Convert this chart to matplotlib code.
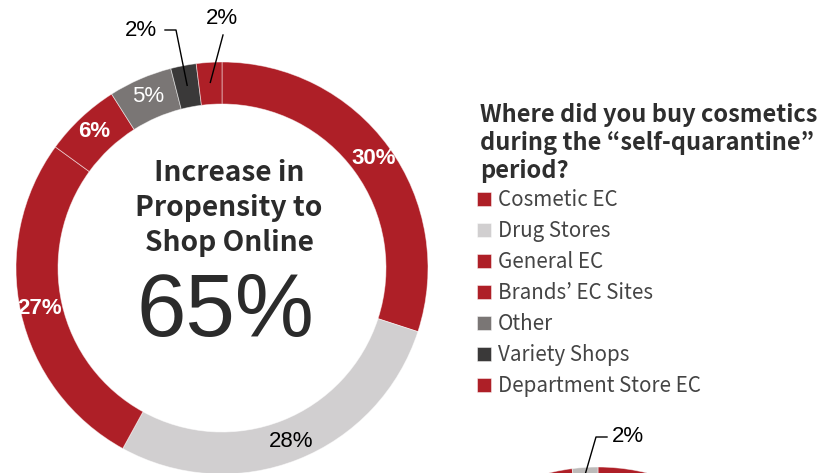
import matplotlib.pyplot as plt
import numpy as np

W, H = 820, 473

# Where cosmetics were bought during self-quarantine (share of respondents, %)
labels = ["Cosmetic EC", "Drug Stores", "General EC", "Brands’ EC Sites",
          "Other", "Variety Shops", "Department Store EC"]
shares = [30, 28, 27, 6, 5, 2, 2]
colors = ["#AE1F27", "#D1CFD0", "#AE1F27", "#AE1F27", "#7A7675", "#3A3939", "#AE1F27"]

headline = "65%"
headline_caption = "Increase in\nPropensity to\nShop Online"
legend_title = "Where did you buy cosmetics\nduring the “self-quarantine”\nperiod?"

# second ring, mostly below the bottom edge
second_shares = [98, 2]
second_colors = ["#AE1F27", "#BCBAB9"]

RED_EDGE = (1, 1, 1, 0.55)
JP = ["Noto Sans CJK JP", "DejaVu Sans"]
SANS = ["Liberation Sans", "DejaVu Sans"]

fig = plt.figure(figsize=(W / 100, H / 100), dpi=100)
ax = fig.add_axes([0, 0, 1, 1])

cx, cy = 222, H - 268
R, ring = 206, 42
wedges, _ = ax.pie(shares, colors=colors, startangle=90, counterclock=False,
                   radius=R, center=(cx, cy),
                   wedgeprops=dict(width=ring, edgecolor=RED_EDGE, linewidth=0.6))


def mid_point(w, r):
    a = np.deg2rad((w.theta1 + w.theta2) / 2)
    return w.center[0] + r * np.cos(a), w.center[1] + r * np.sin(a)


# labels inside the ring
inside = {0: ("white", "bold"), 1: ("black", "normal"), 2: ("white", "bold"),
          3: ("white", "bold"), 4: ("white", "normal")}
for i, (c, wt) in inside.items():
    x, y = mid_point(wedges[i], 187)
    ax.text(x, y, f"{shares[i]}%", color=c, fontweight=wt, fontsize=16,
            family=SANS, ha="center", va="center")

# small slices get leader lines
x, y = mid_point(wedges[5], 186)
ax.plot([x, 176, 165], [y, H - 30, H - 30], color="black", lw=1)
ax.text(157, H - 30, f"{shares[5]}%", fontsize=16, family=SANS, ha="right", va="center")

x, y = mid_point(wedges[6], 186)
ax.plot([x, 223], [y, H - 35], color="black", lw=1)
ax.text(222, H - 18, f"{shares[6]}%", fontsize=16, family=SANS, ha="center", va="center")

# centre caption
ax.text(cx + 7, H - 208, headline_caption, fontsize=20.3, fontweight="bold",
        family=JP, color="#2B2B2B", ha="center", va="center", linespacing=1.3)
ax.text(cx + 3, H - 313, headline, fontsize=64, family=SANS, color="#2B2B2B",
        ha="center", va="center")

# second ring
w2, _ = ax.pie(second_shares, colors=second_colors, startangle=90, counterclock=False,
               radius=R, center=(598, H - 673),
               wedgeprops=dict(width=ring, edgecolor=RED_EDGE, linewidth=0.6))
x, y = mid_point(w2[1], 200)
ax.plot([x, 596, 607], [y, H - 437, H - 437], color="black", lw=1)
ax.text(612, H - 437, f"{second_shares[1]}%", fontsize=16, family=SANS, ha="left", va="center")

# legend
ax.text(480, H - 103, legend_title, fontsize=17, fontweight="bold", family=JP,
        color="#2E2E2E", ha="left", va="top", linespacing=1.2)
ax.legend(wedges, labels, loc="upper left", bbox_to_anchor=(477 / W, (H - 189) / H),
          frameon=False, handlelength=0.68, handleheight=0.68, handletextpad=0.33,
          labelspacing=0.44, borderaxespad=0, borderpad=0,
          prop=dict(family=JP, size=14.8), labelcolor="#444444")

ax.set_xlim(0, W)
ax.set_ylim(0, H)
ax.set_aspect("equal")
ax.axis("off")

fig.savefig("out.png", dpi=100)
